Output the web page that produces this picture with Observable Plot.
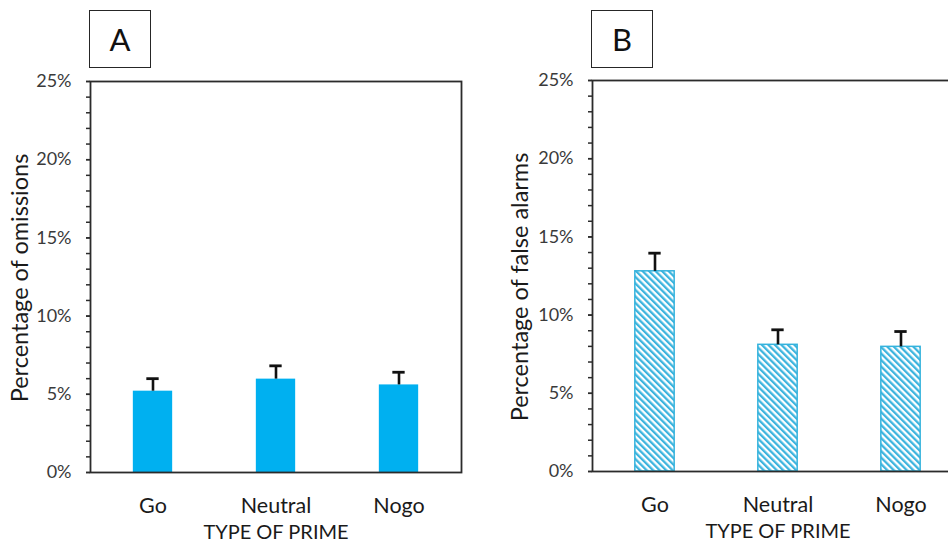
<!DOCTYPE html>
<html><head><meta charset="utf-8">
<script src="https://cdn.jsdelivr.net/npm/d3@7"></script>
<script src="https://cdn.jsdelivr.net/npm/@observablehq/plot@0.6"></script>
<style>
html,body{margin:0;padding:0;background:#fff;overflow:hidden;}
#wrap{position:relative;width:948px;height:542px;overflow:hidden;font-family:Lato,sans-serif;}
.panel{position:absolute;top:0;}
.panel svg{max-width:none !important;}
.tag{position:absolute;top:10px;width:62px;height:58px;box-sizing:border-box;border:1.5px solid #262626;display:flex;align-items:center;justify-content:center;font-size:31px;color:#111;font-family:Lato,sans-serif;}
</style></head><body><div id="wrap"></div>
<script>
const primes = ["Go", "Neutral", "Nogo"];
const omissions = [0.052, 0.0597, 0.056];
const omissionErr = [0.008, 0.0085, 0.0081];
const falseAlarms = [0.128, 0.081, 0.0797];
const falseAlarmErr = [0.0116, 0.0096, 0.0098];
const yTickValues = [0, 0.05, 0.10, 0.15, 0.20, 0.25];
const yMinorValues = d3.range(0, 26).map(i => i / 100);
const panelTitles = ["Percentage of omissions", "Percentage of false alarms"];
const panelTags = ["A", "B"];
const xTitle = "TYPE OF PRIME";

const wrap = document.getElementById("wrap");

function panel({values, errs, title, tag, left, width, marginLeft, marginTop, marginBottom, fill, stroke, titleDx, titleDy}) {
  const data = primes.map((p, i) => ({prime: p, value: values[i], err: errs[i]}));
  const plotW = 371;
  const bw = plotW / primes.length;
  const barInset = (bw - 40) / 2;
  const capInset = (bw - 13) / 2;
  const svg = Plot.plot({
    width, height: 542,
    marginLeft, marginRight: width - marginLeft - plotW, marginTop, marginBottom,
    style: {fontFamily: "Lato, sans-serif", background: "transparent", overflow: "visible"},
    x: {domain: primes, padding: 0, axis: null},
    y: {domain: [0, 0.25], axis: null},
    marks: [
      Plot.barY(data, {x: "prime", y: "value", fill, stroke, strokeWidth: stroke ? 1.5 : 0, insetLeft: barInset, insetRight: barInset}),
      Plot.ruleX(data, {x: "prime", y1: "value", y2: d => d.value + d.err, stroke: "#111", strokeWidth: 2.6}),
      Plot.tickY(data, {x: "prime", y: d => d.value + d.err, stroke: "#111", strokeWidth: 2.8, insetLeft: capInset, insetRight: capInset}),
      Plot.frame({stroke: "#2b2b2b", strokeWidth: 1.8}),
      Plot.axisY({ticks: yMinorValues, tickSize: 4, tickFormat: () => "", label: null, stroke: "#2b2b2b", strokeWidth: 1.5}),
      Plot.axisY({ticks: yTickValues, tickSize: 4, tickPadding: 15, tickFormat: d3.format(".0%"), label: null, fontSize: 18, fill: "#3a3a3a", stroke: "#2b2b2b", strokeWidth: 1.5}),
      Plot.axisX({tickSize: 0, tickPadding: 25, fontSize: 21.5, label: null, fill: "#1a1a1a"}),
      Plot.text([xTitle], {frameAnchor: "bottom", lineAnchor: "top", dy: 52, fontSize: 20, fill: "#1a1a1a"}),
      Plot.text([title], {frameAnchor: "left", rotate: -90, dx: titleDx, dy: titleDy, textAnchor: "middle", lineAnchor: "middle", fontSize: 23.5, fill: "#1a1a1a"})
    ]
  });
  d3.select(svg).insert("defs", ":first-child").html(
    `<pattern id="hatchB" patternUnits="userSpaceOnUse" width="4.6" height="4.6" patternTransform="rotate(-45)"><rect width="4.6" height="4.6" fill="#ffffff"/><rect width="2.3" height="4.6" fill="#3cb4de"/></pattern>`
  );
  const div = document.createElement("div");
  div.className = "panel";
  div.style.left = left + "px";
  div.style.width = width + "px";
  div.appendChild(svg);
  wrap.appendChild(div);
  const t = document.createElement("div");
  t.className = "tag";
  t.style.left = (left + marginLeft - 1) + "px";
  t.textContent = tag;
  wrap.appendChild(t);
}

panel({values: omissions, errs: omissionErr, title: panelTitles[0], tag: panelTags[0], left: 0, width: 474, marginLeft: 90, marginTop: 81, marginBottom: 70, fill: "#00b0f0", stroke: null, titleDx: -70.5, titleDy: 1});
panel({values: falseAlarms, errs: falseAlarmErr, title: panelTitles[1], tag: panelTags[1], left: 474, width: 500, marginLeft: 118, marginTop: 80, marginBottom: 71, fill: "url(#hatchB)", stroke: "#35b3dd", titleDx: -72.5, titleDy: 11});
</script></body></html>
